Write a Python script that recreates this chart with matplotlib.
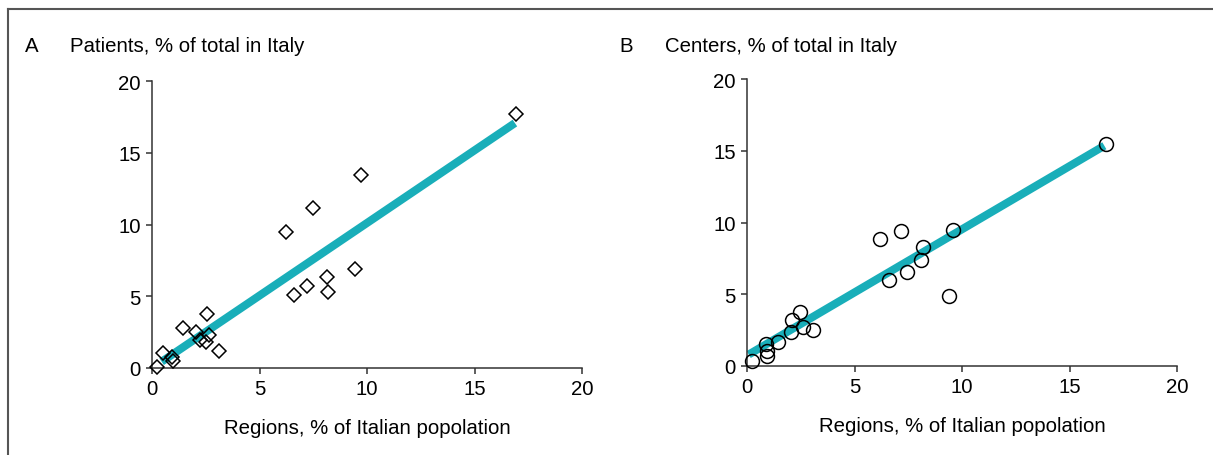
import matplotlib.pyplot as plt
from matplotlib.lines import Line2D

plt.rcParams['font.family'] = ['Liberation Sans', 'DejaVu Sans']

# panel A: patients vs population share, by region
pat_x = [16.93, 9.72, 7.49, 6.23, 9.44, 8.14, 7.21, 6.60, 8.19, 2.56,
         1.44, 2.05, 2.65, 2.23, 2.51, 3.12, 0.51, 0.93, 0.98, 0.23]
pat_y = [17.70, 13.45, 11.15, 9.48, 6.90, 6.34, 5.71, 5.09, 5.30, 3.76,
         2.79, 2.50, 2.30, 1.95, 1.81, 1.18, 1.05, 0.77, 0.49, 0.07]
pat_fit_x = [0.45, 16.88]
pat_fit_y = [0.44, 17.07]

# panel B: centers vs population share, by region
cen_x = [16.70, 6.19, 7.15, 9.60, 8.17, 8.09, 7.46, 6.60, 9.41,
         2.47, 2.11, 2.60, 3.08, 2.03, 1.46, 0.88, 0.92, 0.92, 0.22]
cen_y = [15.47, 8.85, 9.43, 9.48, 8.31, 7.39, 6.57, 5.99, 4.86,
         3.78, 3.21, 2.72, 2.53, 2.35, 1.69, 1.53, 1.05, 0.68, 0.37]
cen_fit_x = [0.08, 16.62]
cen_fit_y = [0.80, 15.35]

ticks = [0, 5, 10, 15, 20]
teal = '#19aeb9'
fs = 14.7

fig = plt.figure(figsize=(12.13, 4.56), dpi=100)

# outer frame (top and left edges visible)
fig.add_artist(Line2D([8 / 1213, 1.0], [1 - 10 / 456, 1 - 10 / 456],
                      transform=fig.transFigure, color='#555555', lw=1.5))
fig.add_artist(Line2D([8 / 1213, 8 / 1213], [0, 1 - 10 / 456],
                      transform=fig.transFigure, color='#555555', lw=1.5))

axA = fig.add_axes([152 / 1213, 87 / 456, 430 / 1213, 287 / 456])
axB = fig.add_axes([747 / 1213, 89 / 456, 430 / 1213, 287 / 456])

panels = [
    (axA, pat_x, pat_y, pat_fit_x, pat_fit_y, 'D', 7.4),
    (axB, cen_x, cen_y, cen_fit_x, cen_fit_y, 'o', 10.0),
]
for ax, xs, ys, fx, fy, mk, ms in panels:
    ax.plot(fx, fy, color=teal, lw=5.8, solid_capstyle='butt', zorder=2)
    ax.plot(xs, ys, linestyle='none', marker=mk, markersize=ms,
            markerfacecolor='none', markeredgecolor='black',
            markeredgewidth=1.1, clip_on=False, zorder=3)
    ax.set_xlim(0, 20)
    ax.set_ylim(0, 20)
    ax.set_xticks(ticks)
    ax.set_yticks(ticks)
    for s in ['top', 'right']:
        ax.spines[s].set_visible(False)
    for s in ['left', 'bottom']:
        ax.spines[s].set_color('#333333')
        ax.spines[s].set_linewidth(1.1)
    ax.tick_params(direction='out', length=4, width=1.1, color='#333333',
                   labelsize=fs, pad=4)
    ax.set_xlabel('Regions, % of Italian popolation', fontsize=fs, labelpad=14)

fig.text(25 / 1213, 1 - 47 / 456, 'A', fontsize=fs, va='center', ha='left')
fig.text(70 / 1213, 1 - 47 / 456, 'Patients, % of total in Italy',
         fontsize=fs, va='center', ha='left')
fig.text(619 / 1213, 1 - 47 / 456, 'B', fontsize=fs, va='center', ha='left')
fig.text(665 / 1213, 1 - 47 / 456, 'Centers, % of total in Italy',
         fontsize=fs, va='center', ha='left')

fig.savefig('out.png', dpi=100)
